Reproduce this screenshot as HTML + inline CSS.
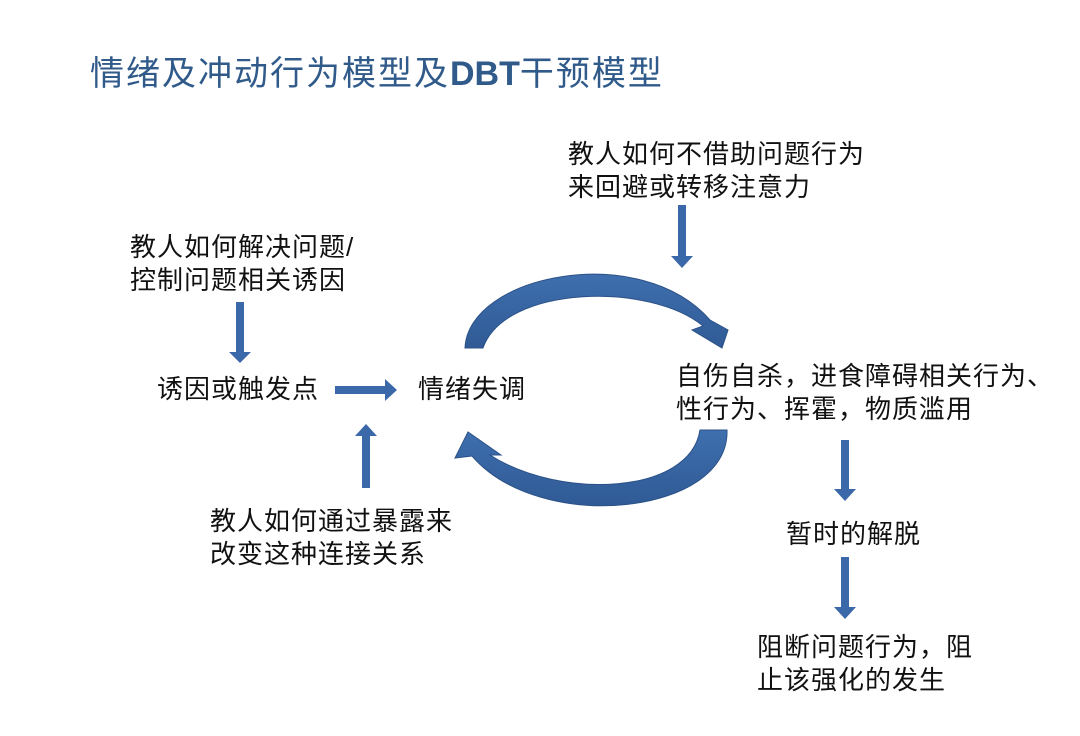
<!DOCTYPE html>
<html><head><meta charset="utf-8"><style>
body{margin:0;width:1080px;height:736px;background:#fff;position:relative;overflow:hidden;font-family:"Liberation Sans","Noto Sans CJK SC",sans-serif;}
.t{position:absolute;font-size:26px;line-height:33px;color:#111;white-space:nowrap;letter-spacing:1px;}
h1{position:absolute;left:90px;top:52px;margin:0;font-weight:normal;font-size:34px;line-height:44px;color:#2f5a8a;white-space:nowrap;letter-spacing:2px;}
</style></head><body>
<h1>情绪及冲动行为模型及<b style="letter-spacing:0">DBT</b>干预模型</h1>
<div class="t" style="left:568px;top:138px">教人如何不借助问题行为<br>来回避或转移注意力</div>
<div class="t" style="left:130px;top:231px">教人如何解决问题/<br>控制问题相关诱因</div>
<div class="t" style="left:157px;top:373px">诱因或触发点</div>
<div class="t" style="left:418px;top:373px">情绪失调</div>
<div class="t" style="left:676px;top:360px">自伤自杀，进食障碍相关行为、<br>性行为、挥霍，物质滥用</div>
<div class="t" style="left:210px;top:505px">教人如何通过暴露来<br>改变这种连接关系</div>
<div class="t" style="left:786px;top:518px">暂时的解脱</div>
<div class="t" style="left:757px;top:631px">阻断问题行为，阻<br>止该强化的发生</div>
<svg width="1080" height="736" style="position:absolute;left:0;top:0">
<defs><linearGradient id="g" x1="0" y1="0" x2="0" y2="1"><stop offset="0" stop-color="#3f6fae"/><stop offset="1" stop-color="#2f5a95"/></linearGradient></defs>
<g fill="#3a68a8">
<path d="M236,302h8v50h7l-11,11l-11,-11h7z"/>
<path d="M335,386h50v-7l12,11l-12,11v-7h-50z"/>
<path d="M362,488v-52h-7l11,-12l11,12h-7v52z"/>
<path d="M678,205h8v51h7l-11,12l-11,-12h7z"/>
<path d="M841,440h8v49h7l-11,12l-11,-12h7z"/>
<path d="M841,557h8v50h7l-11,12l-11,-12h7z"/>
</g>
<path fill="url(#g)" stroke="#2c5288" stroke-width="1" d="M465,348 C468,275 640,240 710,320 L728,330 L722,348 L692,330 L703,326 C650,282 505,285 483,348 Z"/>
<path fill="url(#g)" stroke="#2c5288" stroke-width="1" d="M727,430 C730,515 540,535 472,456 L455,458 L468,432 L501,455 L490,455 C560,500 690,495 700,430 Z"/>
</svg>
</body></html>
